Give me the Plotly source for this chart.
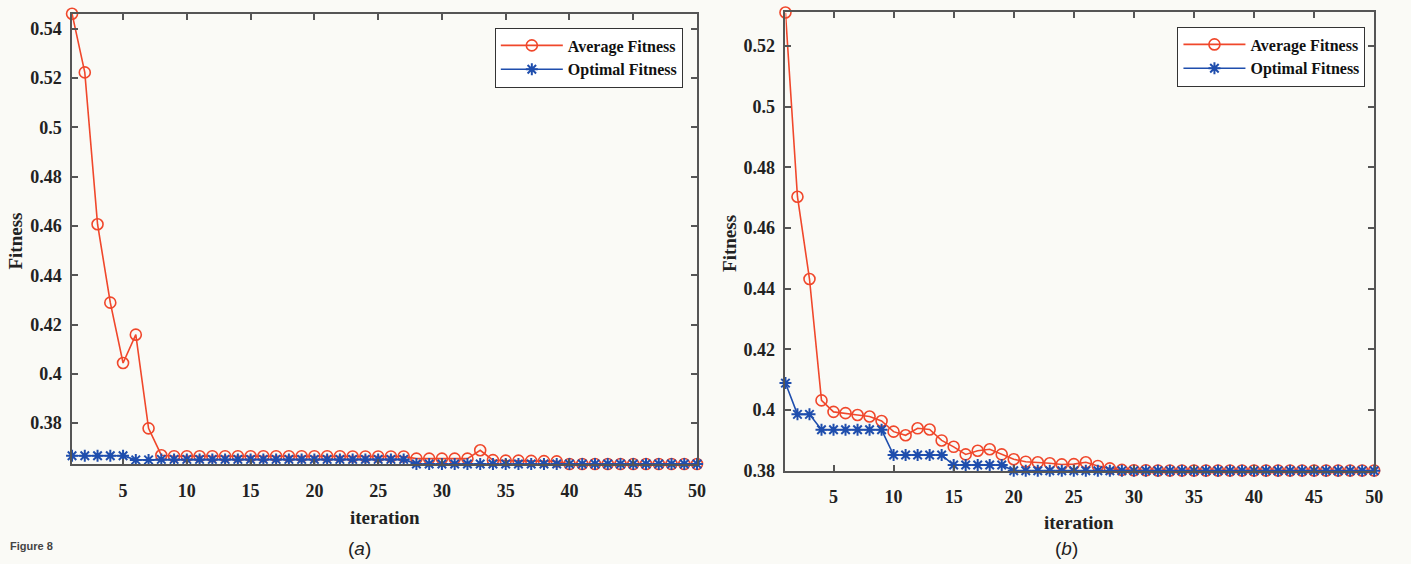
import plotly.graph_objects as go

iters = list(range(1, 51))

# Panel (a)
avg_a = [0.5461, 0.5223, 0.4607, 0.4289, 0.4044, 0.4159, 0.3779, 0.3670,
         0.3666, 0.3666, 0.3666, 0.3666, 0.3666, 0.3666, 0.3666, 0.3666, 0.3666, 0.3666,
         0.3666, 0.3666, 0.3666, 0.3666, 0.3665, 0.3665, 0.3665, 0.3665, 0.3665,
         0.3656, 0.3656, 0.3656, 0.3656, 0.3656, 0.3690, 0.3650, 0.3648, 0.3648,
         0.3647, 0.3646, 0.3645, 0.3634, 0.3634, 0.3634, 0.3634, 0.3634, 0.3634,
         0.3634, 0.3634, 0.3634, 0.3634, 0.3634]
opt_a = [0.3668, 0.3668, 0.3668, 0.3668, 0.3668, 0.3651, 0.3651,
         0.3653, 0.3653, 0.3653, 0.3653, 0.3653, 0.3653, 0.3653, 0.3653, 0.3653,
         0.3653, 0.3653, 0.3653, 0.3653, 0.3653, 0.3653, 0.3653, 0.3653, 0.3653,
         0.3653, 0.3653] + [0.3634] * 23

# Panel (b)
avg_b = [0.5310, 0.4703, 0.4432, 0.4032, 0.3994, 0.3990, 0.3984, 0.3979, 0.3964,
         0.3929, 0.3917, 0.3940, 0.3936, 0.3900, 0.3879, 0.3854, 0.3866, 0.3871,
         0.3854, 0.3838, 0.3830, 0.3828, 0.3825, 0.3821, 0.3822, 0.3828, 0.3816,
         0.3808, 0.3803, 0.3802, 0.3802, 0.3801, 0.3801, 0.3801, 0.3801, 0.3801,
         0.3801, 0.3801, 0.3801, 0.3801, 0.3801, 0.3801, 0.3801, 0.3801, 0.3801,
         0.3801, 0.3801, 0.3801, 0.3801, 0.3801]
opt_b = [0.4089, 0.3986, 0.3986, 0.3935, 0.3935, 0.3935, 0.3935, 0.3935, 0.3935,
         0.3852, 0.3852, 0.3852, 0.3852, 0.3852, 0.3819, 0.3819, 0.3819, 0.3819,
         0.3819] + [0.3800] * 31

xticks = [5, 10, 15, 20, 25, 30, 35, 40, 45, 50]
xlab = ["5", "10", "15", "20", "25", "30", "35", "40", "45", "50"]
yticks_a = [0.38, 0.40, 0.42, 0.44, 0.46, 0.48, 0.50, 0.52, 0.54]
yticks_b = [0.38, 0.40, 0.42, 0.44, 0.46, 0.48, 0.50, 0.52]
ylab_a = ["0.38", "0.4", "0.42", "0.44", "0.46", "0.48", "0.5", "0.52", "0.54"]
ylab_b = ["0.38", "0.4", "0.42", "0.44", "0.46", "0.48", "0.5", "0.52"]
series_names = ["Average Fitness", "Optimal Fitness"]

RED = "#F0472B"
BLUE = "#1F4EAD"
AX = "#555555"
BG = "#FAFAF6"
SERIF = "Liberation Serif"
SANS = "Liberation Sans"

W, H = 1411, 564
def px(x):
    return x / W
def py(y):
    return 1 - y / H
def bold(lst):
    return ["<b>%s</b>" % s for s in lst]

fig = go.Figure()

def add_pair(avg, opt, xa, ya, leg):
    fig.add_trace(go.Scatter(x=iters, y=avg, mode="lines+markers", name=bold(series_names)[0],
                             xaxis=xa, yaxis=ya, legend=leg, cliponaxis=False,
                             line=dict(color=RED, width=1.6),
                             marker=dict(symbol="circle-open", size=11, color=RED,
                                         line=dict(color=RED, width=1.6))))
    fig.add_trace(go.Scatter(x=iters, y=opt, mode="lines+markers", name=bold(series_names)[1],
                             xaxis=xa, yaxis=ya, legend=leg, cliponaxis=False,
                             line=dict(color=BLUE, width=1.6),
                             marker=dict(symbol="asterisk-open", size=10, color=BLUE,
                                         line=dict(color=BLUE, width=2))))

add_pair(avg_a, opt_a, "x", "y", "legend")
add_pair(avg_b, opt_b, "x2", "y2", "legend2")

axis_common = dict(showline=True, linecolor=AX, linewidth=1.5, mirror="ticks",
                   ticks="inside", ticklen=6, tickcolor=AX, tickwidth=1.5,
                   showgrid=False, zeroline=False,
                   tickfont=dict(family=SERIF, size=18, color="#222222"))

leg_common = dict(xanchor="left", yanchor="top",
                  bgcolor="#FFFFFF", bordercolor="#333333", borderwidth=1,
                  font=dict(family=SERIF, size=16, color="#111111"),
                  tracegroupgap=0, itemwidth=62, itemsizing="trace")

fig.update_layout(
    width=W, height=H,
    margin=dict(l=0, r=0, t=0, b=0),
    paper_bgcolor=BG, plot_bgcolor=BG,
    showlegend=True,
    font=dict(family=SERIF),
    xaxis=dict(domain=[px(72.5), px(701.5)], range=[1, 50], tickvals=xticks,
               ticktext=bold(xlab), anchor="y", ticklabelstandoff=9, **axis_common),
    yaxis=dict(domain=[py(472.7), py(14)], range=[0.3633, 0.5461], tickvals=yticks_a,
               ticktext=bold(ylab_a), anchor="x", ticklabelstandoff=5, **axis_common),
    xaxis2=dict(domain=[px(790.5), px(1383)], range=[1, 50], tickvals=xticks,
                ticktext=bold(xlab), anchor="y2", ticklabelstandoff=9, **axis_common),
    yaxis2=dict(domain=[py(479.3), py(12.7)], range=[0.3800, 0.5310], tickvals=yticks_b,
                ticktext=bold(ylab_b), anchor="x2", ticklabelstandoff=5, **axis_common),
    legend=dict(x=px(498), y=py(28), **leg_common),
    legend2=dict(x=px(1185), y=py(27), **leg_common),
)

ann_font = dict(family=SERIF, size=19, color="#222222")
annotations = [
    dict(text="<b>Fitness</b>", x=px(16), y=py(245), textangle=-90, font=ann_font),
    dict(text="<b>Fitness</b>", x=px(734), y=py(248), textangle=-90, font=ann_font),
    dict(text="<b>iteration</b>", x=px(387), y=py(527), font=ann_font),
    dict(text="<b>iteration</b>", x=px(1086), y=py(532), font=ann_font),
    dict(text="(<i>a</i>)", x=px(362), y=py(558), font=dict(family=SANS, size=19, color="#222222")),
    dict(text="(<i>b</i>)", x=px(1073), y=py(558), font=dict(family=SANS, size=19, color="#222222")),
    dict(text="<b>Figure 8</b>", x=px(8), y=py(564), xanchor="left", yanchor="bottom",
         font=dict(family=SANS, size=11, color="#444444")),
]
for a in annotations:
    a.setdefault("xanchor", "center")
    a.setdefault("yanchor", "middle")
    a.update(xref="paper", yref="paper", showarrow=False)
fig.update_layout(annotations=annotations)

fig.write_html("out.html")
